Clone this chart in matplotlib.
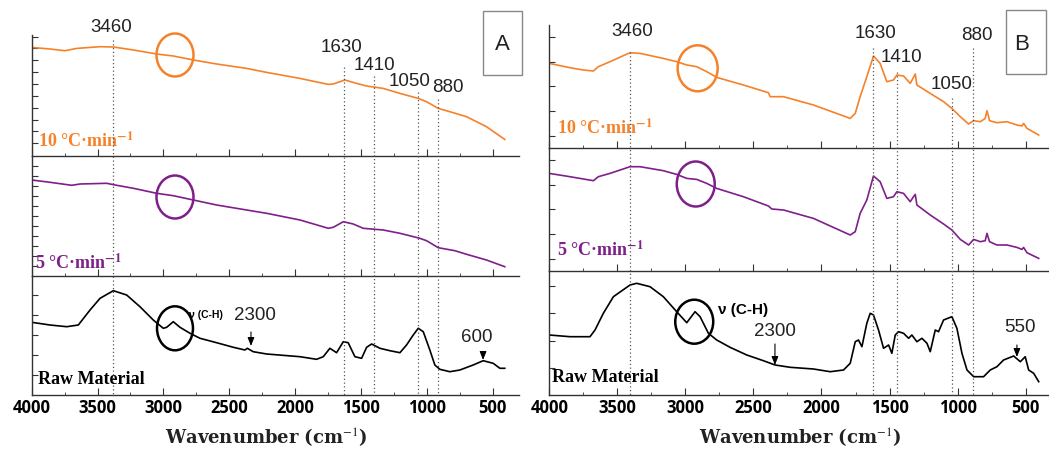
import matplotlib
matplotlib.use('Agg')
import matplotlib.pyplot as plt
import matplotlib.transforms as mtrans
from matplotlib.patches import Ellipse, Rectangle
from matplotlib.lines import Line2D
import numpy as np

plt.rcParams['mathtext.fontset'] = 'stix'

# ---------------- data (wavenumber, signal in arbitrary units) ----------------
# Panel A
a10_wn = [4000, 3861, 3747, 3658, 3481, 3380, 3228, 3051, 2925, 2773, 2596, 2368, 2216, 1963,
          1748, 1710, 1622, 1533, 1457, 1331, 1204, 1065, 1002, 913, 825, 698, 547, 408]
a10_val = [108.3, 106.7, 105, 107.3, 109, 108.7, 105.7, 101.7, 99.7, 95.7, 91.7, 87.3, 83.3, 77.3,
           71.3, 71.7, 75.7, 72.3, 69.7, 67.3, 62.3, 57.3, 54, 47.3, 44, 39, 29, 16.3]

a5_wn = [4000, 3861, 3696, 3633, 3431, 3367, 3228, 3051, 2925, 2773, 2596, 2368, 2216, 1963,
         1748, 1710, 1634, 1559, 1483, 1331, 1204, 1053, 1002, 913, 787, 698, 547, 408]
a5_val = [96, 93.7, 90.7, 92, 92.7, 91, 87.7, 82.7, 80.3, 76, 71, 66, 62.7, 56,
          47.7, 48.7, 54.3, 52, 47.7, 46, 42.7, 37.7, 35.3, 28.3, 25.3, 21.7, 16, 9.3]

araw_wn = [4000, 3861, 3734, 3646, 3557, 3481, 3380, 3279, 3178, 3077, 3001, 2975, 2925, 2874,
           2798, 2722, 2596, 2469, 2381, 2363, 2318, 2216, 1963, 1837, 1786, 1736, 1685, 1634,
           1597, 1546, 1495, 1457, 1419, 1356, 1280, 1204, 1154, 1103, 1065, 1027, 977, 939,
           901, 825, 749, 648, 572, 496, 445, 408]
araw_val = [72.7, 70, 68.3, 70, 85, 96.7, 104.3, 100, 88.3, 75, 66.7, 67.7, 73.3, 67.7,
            61.7, 56.7, 52.3, 47.7, 45, 46.7, 43.3, 41, 38.3, 35.7, 38.3, 46.7, 42.3, 53.3,
            52.3, 38.3, 36.7, 47.7, 51, 46.7, 44.3, 42.3, 50, 60, 66.7, 63.3, 45, 30,
            25.7, 23.3, 25, 30, 34.3, 31.7, 26.7, 26.7]

# Panel B
b10_wn = [4000, 3848, 3750, 3676, 3640, 3554, 3407, 3333, 3162, 3064, 2990, 2917, 2843, 2770,
          2574, 2390, 2377, 2353, 2279, 2059, 1789, 1752, 1716, 1667, 1618, 1569, 1520, 1471,
          1446, 1397, 1348, 1324, 1311, 1299, 1201, 1103, 1042, 980, 919, 882, 833, 797, 784,
          765, 711, 637, 564, 527, 515, 490, 404]
b10_val = [84.3, 80, 77.7, 76.7, 81, 86, 95, 94.3, 89.3, 86, 82.7, 81, 76, 70.3,
           62.7, 55, 51, 51, 51, 42.7, 29.3, 34.3, 51, 71, 91.7, 84.3, 66, 67.7,
           72.7, 71.7, 64.3, 70.3, 73.7, 62.7, 54.3, 46, 39.3, 31, 23.7, 27, 26, 29.3, 37,
           27, 25, 26, 22.7, 21.7, 24.3, 19.3, 12.7]

b5_wn = [4000, 3848, 3676, 3640, 3554, 3407, 3333, 3162, 3064, 2990, 2917, 2843, 2770,
         2574, 2390, 2365, 2279, 2059, 1789, 1752, 1716, 1667, 1618, 1569, 1520, 1471,
         1446, 1397, 1348, 1324, 1311, 1299, 1201, 1103, 1042, 980, 919, 882, 833, 797, 784,
         765, 711, 637, 564, 527, 515, 490, 404]
b5_val = [97.3, 94, 90, 94, 97.3, 104, 104, 100, 96.3, 92.3, 91.3, 87.3, 82.3,
          74, 64.7, 61.7, 60.7, 52.3, 35.7, 39, 57.3, 70.7, 94.7, 89, 72.3, 74,
          79, 77.3, 69, 74, 76.3, 65.7, 55.7, 46.7, 40.7, 31.3, 25.7, 31.3, 29, 30, 37.3,
          29, 25.7, 25.7, 23.3, 21.3, 23.3, 18, 12.3]

braw_wn = [4000, 3848, 3701, 3664, 3603, 3529, 3407, 3358, 3260, 3162, 3064, 2990, 2929, 2892,
           2831, 2770, 2672, 2549, 2427, 2341, 2230, 2059, 1936, 1838, 1789, 1752, 1728, 1703,
           1667, 1642, 1618, 1581, 1544, 1507, 1483, 1458, 1434, 1397, 1360, 1336, 1299, 1262,
           1225, 1201, 1164, 1140, 1103, 1042, 1005, 968, 931, 882, 809, 760, 711, 662, 588,
           539, 503, 478, 441, 404]
braw_val = [60, 58.3, 58.3, 65, 81.7, 98.3, 110, 111.7, 108.3, 98.3, 83.3, 72.3, 83.3, 78.3,
            61.7, 55, 47.7, 40, 34.3, 30, 27.7, 26, 23.3, 25, 31.7, 53.3, 55, 48.3,
            71.7, 81.7, 80, 65, 46.7, 50, 41.7, 60, 63.3, 61.7, 56.7, 60, 53.3, 56.7,
            51.7, 43.3, 65, 63.3, 75, 78.3, 66.7, 41.7, 25, 18.3, 18.3, 25, 28.3, 35, 39,
            33.3, 38.3, 25, 21.7, 13.3]

rate_labels = ['10 °C·min$^{\\mathbf{-1}}$', '5 °C·min$^{\\mathbf{-1}}$', 'Raw Material']
peaks = ['3460', '1630', '1410', '1050', '880']
peaks_a_wn = [3380, 1630, 1403, 1068, 915]
peaks_b_wn = [3407, 1619, 1447, 1043, 885]

ORANGE = '#f5822a'
PURPLE = '#7e1f8a'
colors = [ORANGE, PURPLE, 'black']

W, H = 1049, 459
fig = plt.figure(figsize=(W / 100, H / 100), dpi=100)
fig.set_facecolor('white')


def make_panel(x0, x1, rows, xlim, yticks, curves):
    axes = []
    for i in range(3):
        top, bot = rows[i], rows[i + 1]
        ax = fig.add_axes([x0 / W, 1 - bot / H, (x1 - x0) / W, (bot - top) / H])
        ax.patch.set_alpha(0)
        wn, val = curves[i]
        ax.plot(wn, val, color=colors[i], lw=1.2)
        ax.set_xlim(*xlim)
        ax.set_ylim(0, bot - top)
        ax.set_yticks(yticks[i])
        ax.set_xticks(np.arange(500, 4001, 500))
        ax.set_xticks(np.arange(500, 4001, 250), minor=True)
        ax.spines['top'].set_visible(False)
        ax.spines['right'].set_visible(False)
        for s in ('left', 'bottom'):
            ax.spines[s].set_color('#333333')
            ax.spines[s].set_linewidth(1.0)
        ax.tick_params(axis='y', direction='in', length=4, labelleft=False, color='#333333')
        ax.tick_params(axis='x', which='major', direction='in', length=5, color='#333333')
        ax.tick_params(axis='x', which='minor', direction='in', length=2.5, color='#333333')
        ax.tick_params(axis='x', labelbottom=(i == 2), pad=3)
        if i == 2:
            for lab in ax.get_xticklabels():
                lab.set_fontfamily('Open Sans')
                lab.set_fontweight('bold')
                lab.set_fontsize(12)
        axes.append(ax)
    return axes


axA = make_panel(31.7, 519, [35, 155.7, 276, 395], (4000, 300),
                 [np.arange(12.4, 121, 11.85), np.arange(10, 120, 10), np.arange(20, 119, 20)],
                 [(a10_wn, a10_val), (a5_wn, a5_val), (araw_wn, araw_val)])
axB = make_panel(549.3, 1048.5, [25, 147.7, 270.7, 395], (4000, 332),
                 [np.arange(12, 122, 24.6), np.arange(12, 122, 24.6), np.arange(27, 124, 27.5)],
                 [(b10_wn, b10_val), (b5_wn, b5_val), (braw_wn, braw_val)])


# dotted guide lines with their labels
def guides(ax, wns, tops, text_pos):
    trans = mtrans.blended_transform_factory(ax.transData, fig.transFigure)
    for lab, w, top, (dx, ty) in zip(peaks, wns, tops, text_pos):
        fig.add_artist(Line2D([w, w], [1 - top / H, 1 - 395 / H], transform=trans,
                              ls=(0, (1, 2)), color='#555555', lw=0.9))
        t = mtrans.offset_copy(trans, fig=fig, x=dx, y=0, units='dots')
        fig.text(w, 1 - ty / H, lab, transform=t, ha='center', va='center',
                 fontsize=13.5, family='Liberation Sans', color='#222222')


guides(axA[2], peaks_a_wn, [40, 67, 76, 92, 99],
       [(-2, 28), (-2, 47), (1, 65), (-8, 82), (10, 87)])
guides(axB[2], peaks_b_wn, [52, 48, 72, 98, 48],
       [(2, 31), (2, 33), (5, 58), (0, 85), (4, 35)])

# circles around the C-H band
circA = [(2912, 100.7, 281, 43), (2912, 79, 281, 43), (2912, 66.7, 273, 44)]
circB = [(2910, 79.4, 294, 46), (2924, 86.7, 279, 45), (2935, 73.3, 279, 44)]
for axes, circs in ((axA, circA), (axB, circB)):
    for i, (cx, cy, w, h) in enumerate(circs):
        axes[i].add_patch(Ellipse((cx, cy), w, h, fill=False, ec=colors[i], lw=1.8,
                                  clip_on=False))

# series labels
rate_pos_A = [(38, 14), (35, 13), (38, 16)]
rate_pos_B = [(557, 19.7), (557, 20.7), (552, 17)]
for axes, pos, x0 in ((axA, rate_pos_A, 31.7), (axB, rate_pos_B, 549.3)):
    for i, (px, v) in enumerate(pos):
        ax = axes[i]
        t = mtrans.offset_copy(ax.transAxes, fig=fig, x=px - x0, y=0, units='dots')
        yfrac = v / ax.get_ylim()[1]
        ax.text(0, yfrac, rate_labels[i], transform=t, ha='left', va='center',
                fontsize=13, family='Liberation Serif', fontweight='bold', color=colors[i])

# annotations on raw material curves
axA[2].text(2680, 80, 'ν (C-H)', fontsize=7.5, fontweight='bold', family='Liberation Sans',
            ha='center', va='center')
axB[2].text(2577, 85, 'ν (C-H)', fontsize=11, fontweight='bold', family='Liberation Sans',
            ha='center', va='center')
arrows = [(axA[2], '2300', 2335, 49, 14, 4, 31), (axA[2], '600', 573, 35, 8, -6, 23),
          (axB[2], '2300', 2342, 30, 21, 0, 33), (axB[2], '550', 564, 38, 12, 3, 30)]
for ax, lab, w, v, tail, tdx, tdy in arrows:
    ax.annotate('', xy=(w, v), xytext=(0, tail), textcoords='offset pixels',
                arrowprops=dict(arrowstyle='-|>,head_length=0.5,head_width=0.2', color='black',
                                lw=0.8, shrinkA=0, shrinkB=0))
    ax.annotate(lab, xy=(w, v), xytext=(tdx, tdy), textcoords='offset pixels',
                ha='center', va='center', fontsize=13.5, family='Liberation Sans',
                color='#222222')

# panel letters
for lab, (x0, x1, y0, y1), tx in (('A', (483, 522, 11, 75), 502.5), ('B', (1006, 1046, 10, 74), 1022)):
    fig.add_artist(Rectangle((x0 / W, 1 - y1 / H), (x1 - x0) / W, (y1 - y0) / H,
                             transform=fig.transFigure, fill=False, ec='#888888', lw=1.0))
    fig.text(tx / W, 1 - 44 / H, lab, ha='center', va='center', fontsize=16,
             family='Liberation Sans', color='#222222')

# axis titles
for cx in (266, 800):
    fig.text(cx / W, 1 - 437 / H, 'Wavenumber (cm$^{-1}$)', ha='center', va='center',
             fontsize=13, family='DejaVu Serif', fontweight='bold', color='#222222')

fig.savefig('out.png', dpi=100)
